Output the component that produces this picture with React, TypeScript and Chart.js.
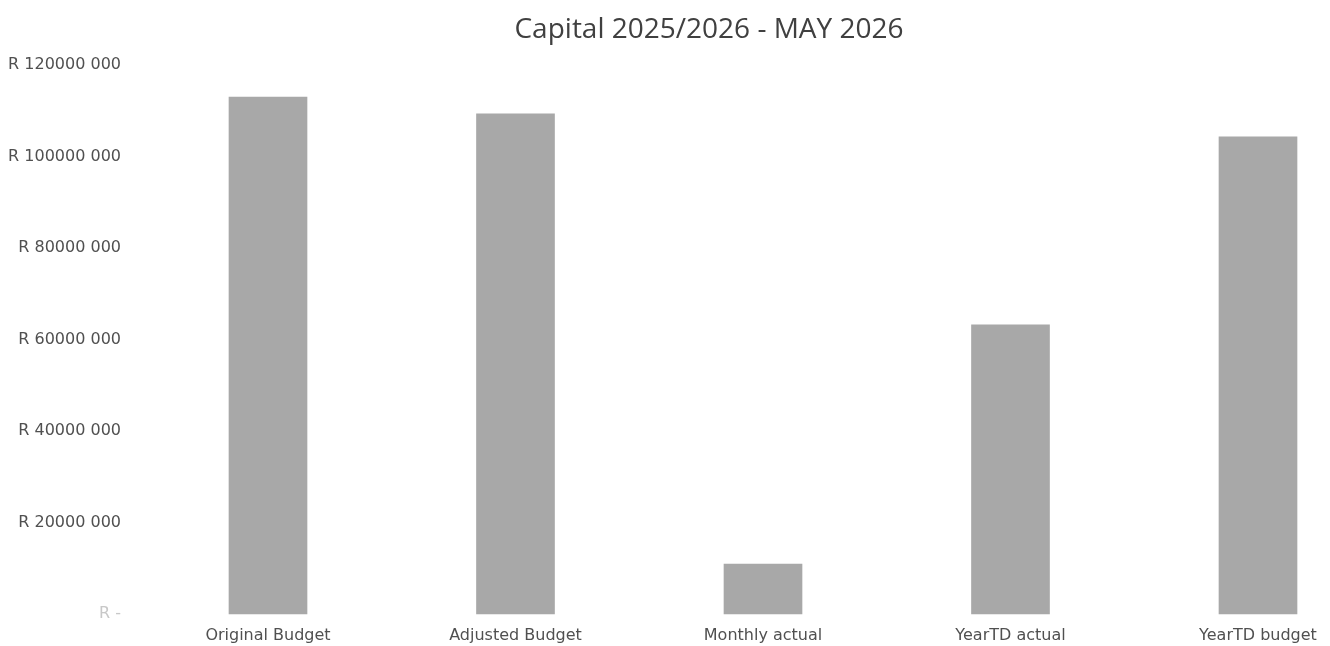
import React, { useEffect, useRef } from "react";
import { Chart, registerables } from "chart.js";

Chart.register(...registerables);

const categories = ["Original Budget", "Adjusted Budget", "Monthly actual", "YearTD actual", "YearTD budget"];
const values = [113000000, 109300000, 10900000, 63200000, 104300000];
const yTickValues = [0, 20000000, 40000000, 60000000, 80000000, 100000000, 120000000];
const yTickLabels = ["R -", "R 20000 000", "R 40000 000", "R 60000 000", "R 80000 000", "R 100000 000", "R 120000 000"];
const titleText = "Capital 2025/2026 - MAY 2026";

const BAR_THICKNESS = 78;
const Y_LABEL_GAP = 147;

const titleOverPlot = {
  id: "titleOverPlot",
  afterLayout(chart: any) {
    const t = chart.titleBlock;
    const y = chart.scales.y;
    if (!t || !y) return;
    t.left = y.right - Y_LABEL_GAP;
    t.right = chart.chartArea.right + BAR_THICKNESS / 2;
    t.width = t.right - t.left;
  },
};

export default function App() {
  const ref = useRef<HTMLCanvasElement | null>(null);
  useEffect(() => {
    if (!ref.current) return;
    const chart = new Chart(ref.current, {
      type: "bar",
      data: {
        labels: categories,
        datasets: [
          {
            data: values,
            backgroundColor: "#a8a8a8",
            borderWidth: 0,
            barThickness: BAR_THICKNESS,
            clip: false as any,
          },
        ],
      },
      plugins: [titleOverPlot],
      options: {
        animation: false,
        responsive: true,
        maintainAspectRatio: false,
        layout: { padding: { left: 0, right: 72, top: 0, bottom: 0 } },
        plugins: {
          legend: { display: false },
          tooltip: { enabled: false },
          title: {
            display: true,
            text: titleText,
            color: "#404040",
            font: { family: "Open Sans", size: 28, weight: "normal" },
            padding: { top: 13, bottom: 18.4 },
          },
        },
        scales: {
          x: {
            type: "category",
            offset: false,
            grid: { display: false, drawTicks: false },
            border: { display: false },
            afterFit: (scale: any) => {
              scale.height = 32;
            },
            ticks: {
              color: "#505050",
              font: { family: "DejaVu Sans", size: 16 },
              padding: 12,
              maxRotation: 0,
              autoSkip: false,
            },
          },
          y: {
            min: 0,
            max: 120000000,
            grid: { display: false, drawTicks: false },
            border: { display: false },
            afterFit: (scale: any) => {
              scale.width = 268;
              scale.paddingTop = 10;
              scale.paddingBottom = 10;
            },
            afterBuildTicks: (scale: any) => {
              scale.ticks = yTickValues.map((v) => ({ value: v }));
            },
            ticks: {
              color: (ctx: any) => (ctx.tick && ctx.tick.value === 0 ? "#c8c8c8" : "#505050"),
              font: { family: "DejaVu Sans", size: 16 },
              padding: Y_LABEL_GAP,
              callback: (value: any) => {
                const i = yTickValues.indexOf(Number(value));
                return i >= 0 ? yTickLabels[i] : "";
              },
            },
          },
        },
      },
    });
    return () => chart.destroy();
  }, []);
  return (
    <div style={{ position: "fixed", left: 0, top: 0, width: 1330, height: 646, background: "#fff" }}>
      <canvas ref={ref} />
    </div>
  );
}
